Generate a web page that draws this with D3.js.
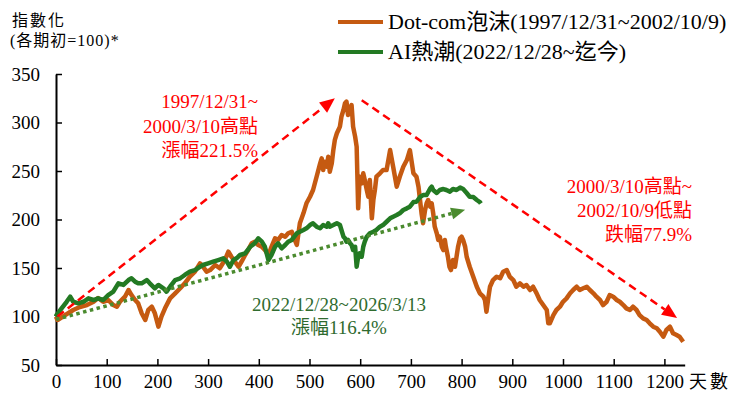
<!DOCTYPE html>
<html><head><meta charset="utf-8">
<script src="https://cdn.jsdelivr.net/npm/d3@7"></script>
<style>
body{margin:0;background:#fff}
svg{display:block}
text{font-family:"Liberation Serif","Times New Roman","Noto Sans CJK TC",serif}
</style>
</head><body>
<svg id="c" width="731" height="394"></svg>
<script>
// ---- data (day index, index value; start = 100) ----
const dotcom = [[0,100],[3,96.4],[18,101.5],[34,106.7],[47,109.8],[61,111.8],[74,115.2],[83,119.1],[93,115.2],[103,117],[113,111.8],[120,110.1],[126,115.2],[136,120.4],[143,127.3],[149,122.1],[156,117],[162,113.6],[169,103.3],[176,96.4],[182,106.7],[189,110.1],[195,103.3],[202,89.5],[208,99.8],[215,108.4],[225,118.7],[235,123.9],[245,129.1],[254,134.2],[264,141],[274,146.2],[284,154.8],[290,151.3],[297,146.2],[304,147.9],[314,153.1],[323,149.7],[333,158.2],[340,166.8],[346,161.6],[353,156.5],[360,151.3],[366,156.5],[373,163.4],[379,168.5],[386,175.5],[392,177.1],[399,173.7],[406,171.9],[412,168.5],[419,163.4],[425,171.9],[432,180.6],[438,178.9],[445,184],[452,182.3],[458,185.8],[465,187.4],[471,178.9],[475,173.7],[481,196.1],[488,206.4],[494,216.7],[501,223.5],[507,230.4],[514,244.1],[521,257.9],[524,263.1],[527,251],[530,259.6],[534,254.4],[537,264.7],[540,249.3],[544,257.9],[547,271.6],[550,282],[554,288.9],[557,292.3],[560,295.7],[563,306],[567,312.9],[570,319.8],[573,321.5],[576,307.7],[580,314.6],[583,318],[586,295.7],[590,285.4],[593,275],[596,211.5],[599,244.1],[603,237.3],[606,247.6],[609,240.7],[613,230.4],[616,223.5],[619,240.7],[623,201.2],[626,220.1],[629,230.4],[632,244.1],[639,247.6],[645,251],[652,251],[659,271.6],[665,254.4],[672,233.8],[678,244.1],[685,254.4],[692,261.3],[698,271.6],[705,247.6],[711,244.1],[715,233.8],[718,220.1],[721,206.4],[724,196.1],[728,209.8],[731,216.7],[734,220.1],[738,213.2],[741,216.7],[744,206.4],[747,192.6],[751,185.8],[754,178.9],[757,182.3],[761,171.9],[764,168.5],[767,178.9],[769,171.9],[773,161.6],[776,151.3],[779,147.9],[783,158.2],[787,151.3],[790,161.6],[793,171.9],[797,180.6],[800,182.3],[803,178.9],[807,171.9],[810,161.6],[816,151.3],[823,141],[830,130.7],[836,123.9],[843,120.4],[846,117],[849,104.9],[853,120.4],[856,130.7],[862,137.6],[869,141],[876,139.4],[882,146.2],[889,147.9],[895,141],[902,137.6],[908,130.7],[915,134.2],[922,130.7],[928,132.5],[935,127.3],[941,130.7],[948,123.9],[954,117],[961,111.8],[968,106.7],[971,93],[974,93],[981,101.5],[987,106.7],[994,110.1],[1000,115.2],[1007,118.7],[1014,123.9],[1020,127.3],[1027,130.7],[1033,127.3],[1040,129.1],[1047,130.7],[1053,127.3],[1060,123.9],[1066,120.4],[1073,117],[1079,111.8],[1086,115.2],[1092,122.1],[1099,120.4],[1106,117],[1112,115.2],[1119,111.8],[1125,108.4],[1132,106.7],[1138,110.1],[1145,106.7],[1151,101.5],[1158,98.1],[1165,96.4],[1171,93],[1178,89.5],[1185,87.8],[1191,84.3],[1198,79.2],[1204,86.1],[1211,89.5],[1217,82.7],[1224,80.9],[1230,79.2],[1237,74]];

const aiBoom = [[0,100],[1,101.5],[11,108.4],[21,115.2],[28,120.4],[34,115.2],[44,113.6],[54,115.2],[64,118.7],[74,117],[83,118.7],[93,117],[103,122.1],[113,125.6],[123,134.2],[133,132.5],[143,137.6],[149,139.4],[156,135.9],[162,134.2],[169,134.2],[179,137.6],[185,134.2],[195,129.1],[202,132.5],[212,129.1],[218,125.6],[225,130.7],[235,137.6],[245,139.4],[254,142.8],[264,146.2],[274,147.9],[284,151.3],[290,153.1],[300,154.8],[310,156.5],[320,158.2],[330,160],[337,156.5],[343,151.3],[350,158.2],[356,160],[363,163.4],[373,165.1],[383,171.9],[392,175.5],[399,180.6],[406,177.1],[412,171.9],[419,158.2],[425,163.4],[432,171.9],[438,175.5],[445,170.3],[452,173.7],[458,177.1],[465,178.9],[475,185.8],[481,187.4],[488,189.2],[494,190.9],[501,194.3],[507,196.1],[514,192.6],[521,190.9],[527,194.3],[534,192.6],[537,196.1],[540,192.6],[547,194.3],[554,196.1],[560,194.3],[563,189.2],[567,182.3],[570,180.6],[573,177.1],[576,178.9],[580,175.5],[583,173.7],[586,168.5],[590,171.9],[593,151.3],[596,161.6],[599,165.1],[603,161.6],[606,171.9],[609,177.1],[613,182.3],[619,185.8],[626,187.4],[632,189.2],[639,192.6],[645,194.3],[652,197.7],[659,201.2],[665,202.9],[672,204.6],[678,206.4],[685,209.8],[692,211.5],[698,213.2],[705,218],[711,218.3],[718,223.2],[724,225.2],[731,225.2],[738,232],[741,233.8],[744,230.4],[751,227.3],[757,230.4],[764,231.4],[770,230.4],[777,228.7],[783,231.4],[790,230.4],[797,233],[803,231.4],[810,227.3],[816,223.5],[823,223.2],[830,220.1],[836,218],[838,216.4]];

const yTicks = [50,100,150,200,250,300,350];
const xTicks = [0,100,200,300,400,500,600,700,800,900,1000,1100,1200];
const legendLabels = ["Dot-com泡沫(1997/12/31~2002/10/9)","AI熱潮(2022/12/28~迄今)"];
const yTitle = ["指數化","(各期初=100)*"];
const xTitle = "天數";

// trend arrows [start, end] in data units
const riseArrow = [[3,100],[550,325]];
const fallArrow = [[603,323],[1225,98.5]];
const aiArrow = [[0,97],[807,210]];

const riseNote = ["1997/12/31~","2000/3/10高點","漲幅221.5%"];
const fallNote = ["2000/3/10高點~","2002/10/9低點","跌幅77.9%"];
const aiNote = ["2022/12/28~2026/3/13","漲幅116.4%"];

// ---- drawing ----
const ORANGE = "#c55a11", GREEN = "#237a23", RED = "#ff0000", DOT = "#4b8b2f", NOTEGREEN = "#2f6b2f";
const SERIF = '"Liberation Serif","Times New Roman","Noto Sans CJK TC",serif';
const svg = d3.select("#c");
const x = d3.scaleLinear().domain([0,1240]).range([56, 56 + 1240*0.507]);
const y = d3.scaleLinear().domain([50,350]).range([365,74]);

// axes
const ya = svg.append("g").attr("transform","translate(56,0)")
  .call(d3.axisLeft(y).tickValues(yTicks).tickFormat(d3.format("d")).tickSizeInner(-6).tickSizeOuter(0).tickPadding(16));
const xa = svg.append("g").attr("transform","translate(0,365)")
  .call(d3.axisBottom(x).tickValues(xTicks).tickFormat(d3.format("d")).tickSizeInner(-6).tickSizeOuter(0).tickPadding(10));
[ya, xa].forEach(g => {
  g.selectAll("path.domain").attr("stroke","#000").attr("stroke-width",2);
  g.selectAll(".tick line").attr("stroke","#000").attr("stroke-width",1.5);
  g.selectAll(".tick text").attr("fill","#000").style("font-size","19px").style("font-family",SERIF);
});

// series
const line = d3.line().x(d => x(d[0])).y(d => y(d[1]));
svg.append("path").datum(dotcom).attr("d", line).attr("fill","none")
  .attr("stroke", ORANGE).attr("stroke-width", 4.5).attr("stroke-linejoin","round");
svg.append("path").datum(aiBoom).attr("d", line).attr("fill","none")
  .attr("stroke", GREEN).attr("stroke-width", 4.5).attr("stroke-linejoin","round");

// arrows
function arrow(pts, color, dash, width, headL, headW) {
  const x0 = x(pts[0][0]), y0 = y(pts[0][1]), x1 = x(pts[1][0]), y1 = y(pts[1][1]);
  const dx = x1 - x0, dy = y1 - y0, len = Math.hypot(dx, dy);
  const ux = dx/len, uy = dy/len, nx = -uy, ny = ux;
  const bx = x1 - ux*headL, by = y1 - uy*headL;
  svg.append("line").attr("x1", x0).attr("y1", y0).attr("x2", bx).attr("y2", by)
    .attr("stroke", color).attr("stroke-width", width).attr("stroke-dasharray", dash);
  svg.append("path")
    .attr("d", `M${x1},${y1}L${bx + nx*headW/2},${by + ny*headW/2}L${bx - nx*headW/2},${by - ny*headW/2}Z`)
    .attr("fill", color);
}
arrow(riseArrow, RED, "8,5", 2.5, 15, 13);
arrow(fallArrow, RED, "8,5", 2.5, 15, 13);
arrow(aiArrow, DOT, "3.5,3.5", 3.5, 14, 12);

// notes
function note(lines, xPos, y0, gap, anchor, color) {
  const t = svg.append("text").attr("fill", color).attr("text-anchor", anchor)
    .style("font-size","19px").style("font-family",SERIF);
  lines.forEach((s, i) => t.append("tspan").attr("x", xPos).attr("y", y0 + i*gap).text(s));
}
note(riseNote, 258, 108, 24.5, "end", RED);
note(fallNote, 692, 193, 24, "end", RED);
note(aiNote, 339, 311, 22.5, "middle", NOTEGREEN);

// legend
const legendColors = [ORANGE, GREEN];
legendLabels.forEach((lab, i) => {
  const cy = 22 + i*30;
  svg.append("line").attr("x1", 338).attr("x2", 383).attr("y1", cy).attr("y2", cy)
    .attr("stroke", legendColors[i]).attr("stroke-width", 4);
  svg.append("text").attr("x", 388).attr("y", cy + 7).style("font-size","22px")
    .style("font-family",SERIF).attr("fill","#000").text(lab);
});

// axis titles
svg.append("text").attr("x", 12).attr("y", 26).style("font-size","16px").style("font-family",SERIF)
  .style("letter-spacing","2px").text(yTitle[0]);
svg.append("text").attr("x", 10).attr("y", 46).style("font-size","16px").style("font-family",SERIF)
  .style("letter-spacing","1px").text(yTitle[1]);
svg.append("text").attr("x", 689).attr("y", 388).style("font-size","18px").style("font-family",SERIF)
  .style("letter-spacing","3px").text(xTitle);
</script>
</body></html>
